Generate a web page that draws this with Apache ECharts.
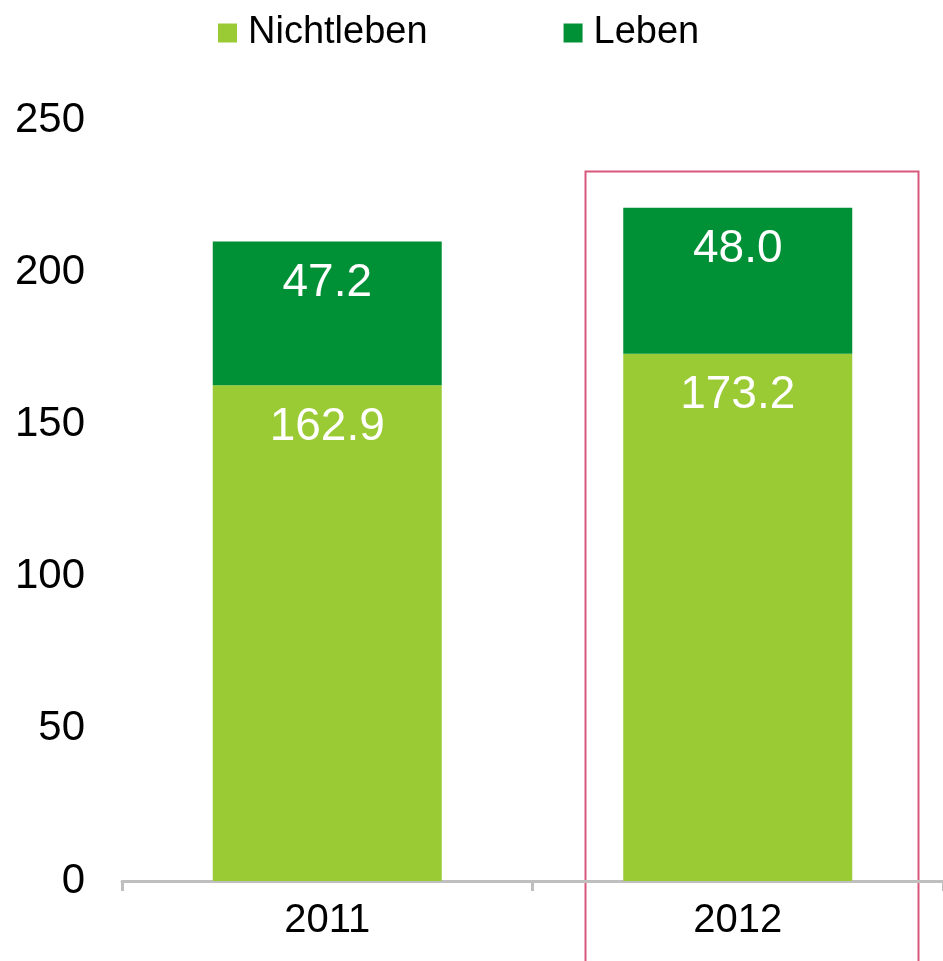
<!DOCTYPE html>
<html>
<head>
<meta charset="utf-8">
<title>Nichtleben / Leben</title>
<script src="https://cdn.jsdelivr.net/npm/echarts@6/dist/echarts.min.js"></script>
<style>
    html, body { margin: 0; padding: 0; background: #fff; }
    #chart { width: 943px; height: 961px; }
</style>
</head>
<body>
<div id="chart"></div>
<script>
// 数据
var years = ['2011', '2012'];
var nichtleben = [162.9, 173.2];
var leben = [47.2, 48.0];
var yTicks = [0, 50, 100, 150, 200, 250];

(function() {
    'use strict';

    var FONT = '"Liberation Sans", Arial, sans-serif';
    var myChart = echarts.init(document.getElementById('chart'));

    // 柱内白色数值
    function valueLabel() {
        return {
            show: true,
            position: 'insideTop',
            distance: 19,
            color: '#fff',
            fontSize: 46,
            fontFamily: FONT,
            formatter: function(p) { return p.value.toFixed(1); }
        };
    }

    var option = {
        animation: false,
        backgroundColor: '#fff',
        legend: {
            left: 213,
            top: 9,
            itemWidth: 19,
            itemHeight: 19,
            itemGap: 136,
            icon: 'rect',
            textStyle: { fontSize: 38, fontFamily: FONT, color: '#000', padding: [0, 0, 0, 6] },
            data: ['Nichtleben', 'Leben']
        },
        grid: { left: 122, right: -6, top: 120, bottom: 80 },
        xAxis: {
            type: 'category',
            data: years,
            axisLine: { lineStyle: { color: '#bfbfbf', width: 3 } },
            axisTick: { show: true, length: 10, lineStyle: { color: '#bfbfbf', width: 3 } },
            axisLabel: { fontSize: 40, fontFamily: FONT, color: '#000', margin: 20 }
        },
        yAxis: {
            type: 'value',
            min: yTicks[0],
            max: yTicks[yTicks.length - 1],
            interval: yTicks[1] - yTicks[0],
            axisLine: { show: false },
            axisTick: { show: false },
            splitLine: { show: false },
            axisLabel: { fontSize: 42, fontFamily: FONT, color: '#000', margin: 37 }
        },
        series: [
            {
                name: 'Nichtleben',
                type: 'bar',
                stack: 'total',
                barWidth: 229,
                itemStyle: { color: '#9aca34' },
                label: valueLabel(),
                data: nichtleben
            },
            {
                name: 'Leben',
                type: 'bar',
                stack: 'total',
                barWidth: 229,
                itemStyle: { color: '#009035' },
                label: valueLabel(),
                data: leben
            }
        ],
        graphic: [
            {
                type: 'rect',
                left: 583,
                top: 169,
                shape: { width: 333, height: 800 },
                style: { fill: 'none', stroke: '#d9577d', lineWidth: 2 },
                silent: true
            }
        ]
    };

    myChart.setOption(option);
})();
</script>
</body>
</html>
